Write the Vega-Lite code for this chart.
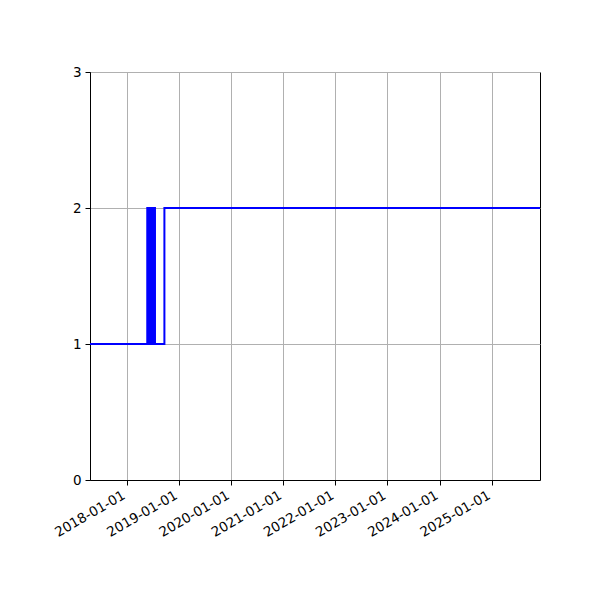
{
  "$schema": "https://vega.github.io/schema/vega-lite/v6.json",
  "autosize": {"type": "none"},
  "width": 450,
  "height": 408,
  "padding": {"left": 90, "top": 72, "right": 60, "bottom": 120},
  "background": "white",
  "config": {
    "view": {"stroke": "black", "strokeWidth": 1},
    "axis": {
      "labelFont": "DejaVu Sans",
      "labelFontSize": 13.5,
      "labelColor": "black",
      "tickColor": "black",
      "tickSize": 5,
      "tickWidth": 1,
      "domainColor": "black",
      "gridColor": "#b0b0b0",
      "gridWidth": 1,
      "title": null
    }
  },
  "data": {
    "values": [
      {"date": "2017-04-19", "value": 1},
      {"date": "2018-05-25", "value": 2},
      {"date": "2018-06-01", "value": 1},
      {"date": "2018-06-07", "value": 2},
      {"date": "2018-06-13", "value": 1},
      {"date": "2018-06-19", "value": 2},
      {"date": "2018-06-25", "value": 1},
      {"date": "2018-07-01", "value": 2},
      {"date": "2018-07-07", "value": 1},
      {"date": "2018-07-12", "value": 2},
      {"date": "2018-07-18", "value": 1},
      {"date": "2018-09-22", "value": 2},
      {"date": "2025-12-04", "value": 2}
    ]
  },
  "mark": {"type": "line", "interpolate": "step-after", "color": "#0000ff", "strokeWidth": 2, "clip": true},
  "encoding": {
    "x": {
      "field": "date",
      "type": "temporal",
      "scale": {"type": "utc", "nice": false, "padding": 0},
      "axis": {
        "values": [
          {"year": 2018, "month": 1, "date": 1, "utc": true},
          {"year": 2019, "month": 1, "date": 1, "utc": true},
          {"year": 2020, "month": 1, "date": 1, "utc": true},
          {"year": 2021, "month": 1, "date": 1, "utc": true},
          {"year": 2022, "month": 1, "date": 1, "utc": true},
          {"year": 2023, "month": 1, "date": 1, "utc": true},
          {"year": 2024, "month": 1, "date": 1, "utc": true},
          {"year": 2025, "month": 1, "date": 1, "utc": true}
        ],
        "labelExpr": "utcFormat(datum.value, '%Y-%m-%d')",
        "labelAngle": -30,
        "labelAlign": "right",
        "labelBaseline": "middle",
        "labelOffset": -3,
        "labelPadding": 9,
        "labelBound": false,
        "labelOverlap": false,
        "grid": true
      }
    },
    "y": {
      "field": "value",
      "type": "quantitative",
      "scale": {"domain": [0, 3], "nice": false, "zero": false},
      "axis": {"values": [0, 1, 2, 3], "format": "d", "grid": true, "labelPadding": 4}
    }
  }
}
